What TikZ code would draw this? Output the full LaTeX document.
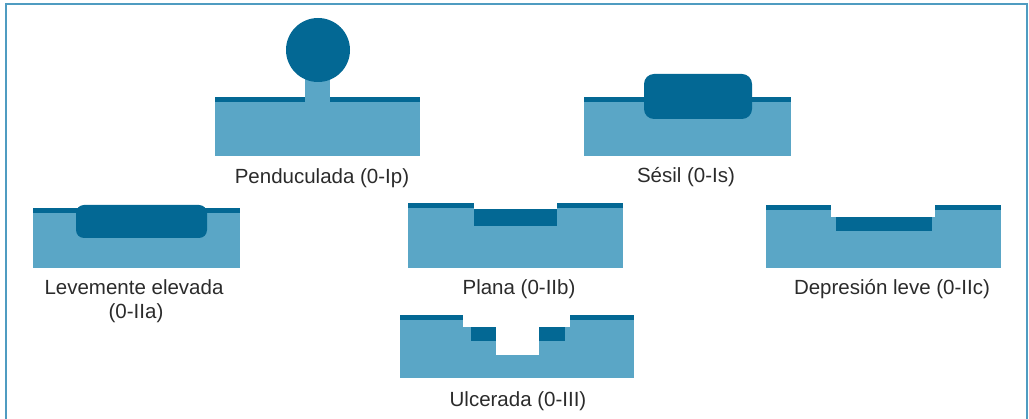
\documentclass[tikz,border=0pt]{standalone}
\usepackage{fontspec}
\setmainfont{Liberation Sans}
\definecolor{mucosa}{HTML}{5AA6C6}
\definecolor{lesion}{HTML}{036894}
\definecolor{frameblue}{HTML}{4F9CC1}
\definecolor{labelgray}{HTML}{2B2B2B}
\tikzset{
  tissue/.style={fill=mucosa, draw=none},
  dark/.style={fill=lesion, draw=none},
  cut/.style={fill=white, draw=none},
  caption/.style={anchor=base, text=labelgray, inner sep=0pt,
    font=\fontsize{20.5}{24}\selectfont},
  panelframe/.style={draw=frameblue, line width=2pt}
}
\begin{document}
\begin{tikzpicture}[x=1pt, y=-1pt]
\useasboundingbox (0,0) rectangle (1029,419);
% open frame (no bottom edge)
\draw[panelframe] (6,419) -- (6,4) -- (1027,4) -- (1027,419);

% --- Penduculada (0-Ip)
\fill[tissue] (215,97) rectangle (420,156);
\fill[dark] (215,97) rectangle (420,102);
\fill[tissue] (305,70) rectangle (330,102);
\fill[dark] (318,50) circle (32);
\node[caption] (lblIp) at (322,184) {Penduculada (0-Ip)};

% --- Sesil (0-Is)
\fill[tissue] (584,97) rectangle (791,156);
\fill[dark] (584,97) rectangle (791,102);
\fill[dark, rounded corners=10pt] (644,74) rectangle (752,119);
\node[caption] (lblIs) at (686,183) {Sésil (0-Is)};

% --- Levemente elevada (0-IIa)
\fill[tissue] (33,208) rectangle (240,268);
\fill[dark] (33,208) rectangle (240,213);
\fill[dark, rounded corners=8pt] (76,205) rectangle (207,238);
\node[caption] (lblIIa) at (134,295) {Levemente elevada};
\node[caption] (lblIIb2) at (136,319) {(0-IIa)};

% --- Plana (0-IIb)
\fill[tissue] (408,203) rectangle (623,268);
\fill[dark] (408,203) rectangle (623,208);
\fill[cut] (474,203) rectangle (557,209);
\fill[dark] (474,209) rectangle (557,226);
\node[caption] (lblIIbb) at (519,295) {Plana (0-IIb)};

% --- Depresion leve (0-IIc)
\fill[tissue] (766,205) rectangle (1001,268);
\fill[dark] (766,205) rectangle (1001,210);
\fill[cut] (831,205) rectangle (935,217);
\fill[dark] (836,217) rectangle (932,231);
\node[caption] (lblIIc) at (892,295) {Depresión leve (0-IIc)};

% --- Ulcerada (0-III)
\fill[tissue] (400,315) rectangle (634,378);
\fill[dark] (400,315) rectangle (634,320);
\fill[cut] (463,315) rectangle (570,327);
\fill[dark] (471,327) rectangle (496,341);
\fill[dark] (539,327) rectangle (565,341);
\fill[cut] (496,327) rectangle (539,355);
\node[caption] (lblIII) at (518,407) {Ulcerada (0-III)};
\end{tikzpicture}
\end{document}
